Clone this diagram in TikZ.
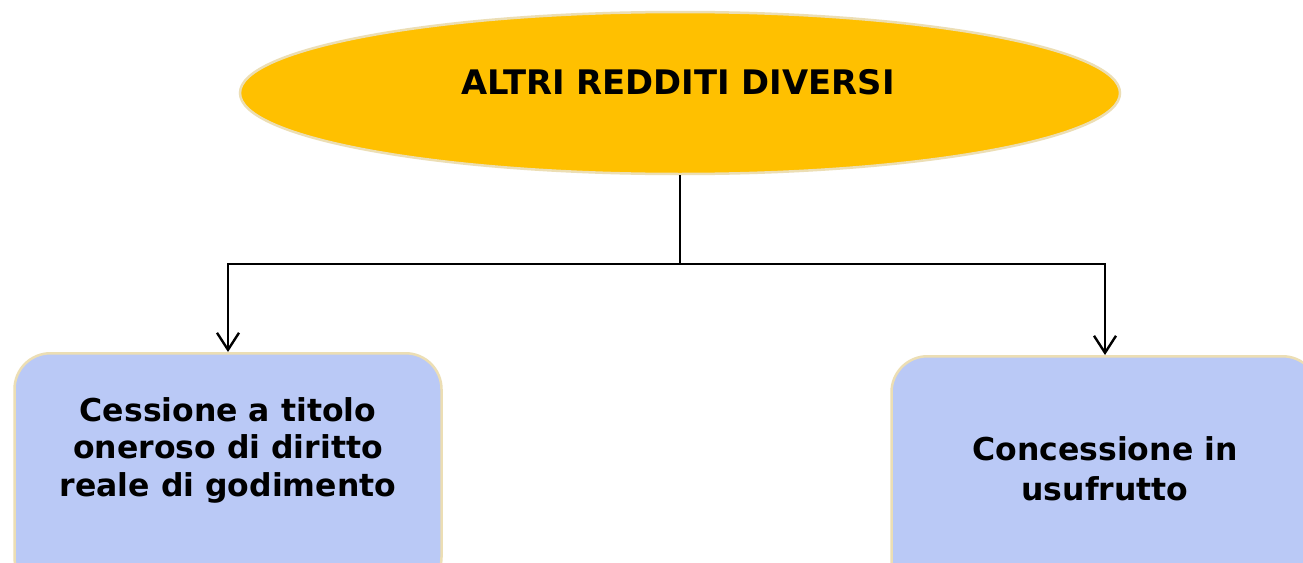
\documentclass[tikz,border=0pt]{standalone}
\usepackage{fontspec}
\setmainfont{DejaVu Sans}
\usetikzlibrary{shapes.geometric,arrows.meta}
\definecolor{gold}{RGB}{255,192,0}
\definecolor{boxblue}{RGB}{186,201,246}
\definecolor{rim}{RGB}{236,222,180}
\tikzset{
  ellbox/.style={ellipse, fill=gold, draw=rim, line width=2.5pt, minimum width=880pt, minimum height=162pt, inner sep=0pt},
  leafbox/.style={rectangle, rounded corners=36pt, fill=boxblue, draw=rim, line width=2.5pt, minimum width=427pt, minimum height=240pt, anchor=north},
  lbl/.style={font=\fontsize{31.5}{37.5}\selectfont\bfseries, align=center, text=black},
  conn/.style={draw=black, line width=2.4pt},
  arr/.style={conn, -{Straight Barb[length=17pt,width=22pt,line width=2.4pt]}}
}
\begin{document}
\begin{tikzpicture}[x=1pt,y=-1pt]
\useasboundingbox (0,0) rectangle (1303,562);
\clip (0,0) rectangle (1303,562);
\fill[white] (0,0) rectangle (1303,562);
\node[ellbox] (top) at (680,93) {};
\node[lbl, font=\fontsize{33.8}{38}\selectfont\bfseries] (toptext) at (678,82) {ALTRI REDDITI DIVERSI};
\node[leafbox] (L) at (228,352) {};
\node[leafbox] (R) at (1105,355) {};
\node[lbl] (Ltext) at (228,450) {Cessione a titolo\\oneroso di diritto\\reale di godimento};
\node[lbl, font=\fontsize{31.5}{40}\selectfont\bfseries] (Rtext) at (1105,469) {Concessione in\\usufrutto};
\coordinate (j) at (680,264);
\draw[conn] (top.south) -- (j);
\draw[arr] (j) -| (L.north);
\draw[arr] (j) -| (R.north);
\end{tikzpicture}
\end{document}
